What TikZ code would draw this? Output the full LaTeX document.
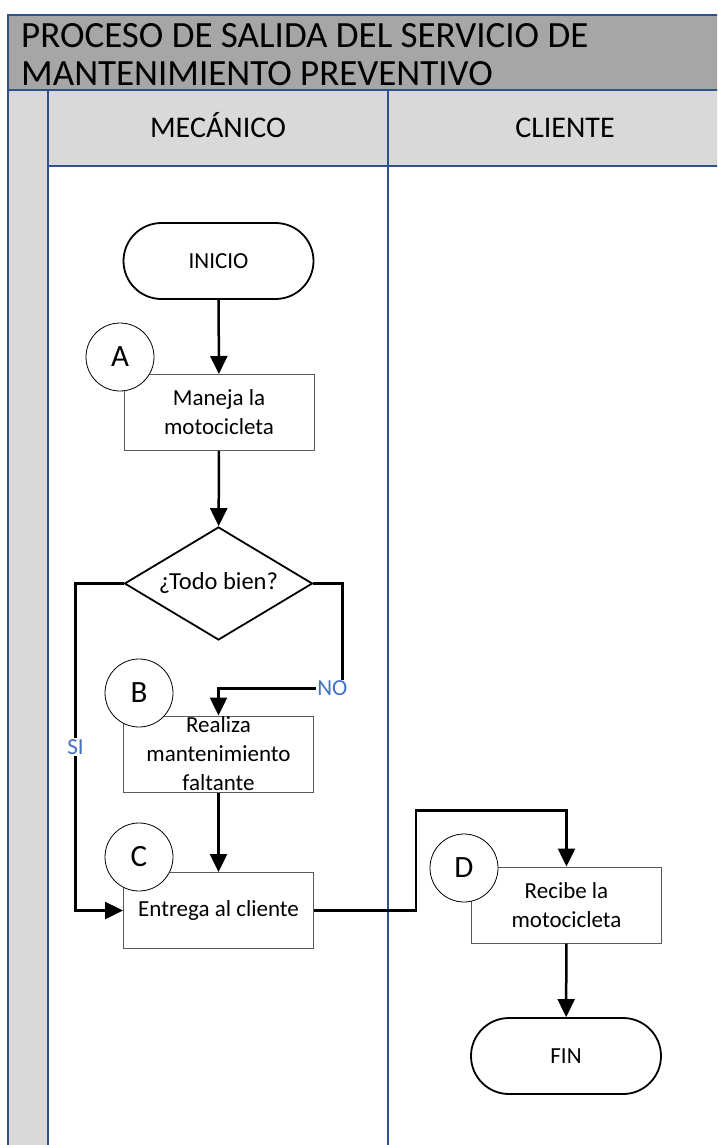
\documentclass[tikz,border=0pt]{standalone}
\usepackage{fontspec}
\setmainfont{Carlito}
\usetikzlibrary{arrows.meta,shapes.geometric}
\definecolor{lineacarril}{RGB}{47,82,143}
\definecolor{grisoscuro}{RGB}{166,166,166}
\definecolor{grisclaro}{RGB}{217,217,217}
\definecolor{azultexto}{RGB}{68,114,196}
\tikzset{
  carril/.style={draw=lineacarril, line width=1.5pt},
  titulo/.style={anchor=base west, inner sep=0pt, font=\fontsize{37}{40}\selectfont},
  encabezado/.style={anchor=base, inner sep=0pt, font=\fontsize{30}{34}\selectfont},
  terminal/.style={draw, line width=1.8pt, rounded corners=38pt, minimum width=190pt, minimum height=76pt, inner sep=0pt, font=\fontsize{23}{28}\selectfont},
  proceso/.style={draw=black!65, line width=1pt, fill=white, minimum width=190pt, minimum height=76pt, inner sep=0pt, align=center, font=\fontsize{23}{29}\selectfont},
  decision/.style={draw, diamond, aspect=1.66, line width=1.8pt, minimum width=188pt, minimum height=113pt, inner sep=0pt, font=\fontsize{24.5}{28}\selectfont},
  conector/.style={draw, circle, line width=0.8pt, fill=white, minimum size=68pt, inner sep=0pt, font=\fontsize{31}{36}\selectfont},
  flujo/.style={line width=2.5pt, -{Triangle[width=17pt,length=18pt]}},
  etiqueta/.style={fill=white, text=azultexto, inner sep=1pt, font=\fontsize{23}{28}\selectfont}
}
\begin{document}
\begin{tikzpicture}[x=1pt, y=-1pt]
    \useasboundingbox (0,0) rectangle (717,1145);
    \clip (0,0) rectangle (717,1145);
    % fondo de la hoja de carriles
    \fill[grisoscuro] (8,15) rectangle (760,90);
    \fill[grisclaro] (8,90) rectangle (760,166);
    \fill[grisclaro] (8,166) rectangle (48,1170);
    \draw[carril] (8,15) rectangle (760,1170);
    \draw[carril] (8,90) -- (760,90);
    \draw[carril] (48,90) -- (48,1170);
    \draw[carril] (48,166) -- (760,166);
    \draw[carril] (388,90) -- (388,1170);
    \node[titulo] (titulo1) at (21,48) {PROCESO DE SALIDA DEL SERVICIO DE};
    \node[titulo] (titulo2) at (21,86) {MANTENIMIENTO PREVENTIVO};
    \node[encabezado] (mecanico) at (218,138) {MECÁNICO};
    \node[encabezado] (cliente) at (565,138) {CLIENTE};

    % pasos del mecanico
    \node[terminal] (inicio) at (218.5,261) {INICIO};
    \node[proceso] (maneja) at (219,412.5) {Maneja la\\motocicleta};
    \node[decision] (todobien) at (218.5,583.5) {¿Todo bien?};
    \node[proceso] (realiza) at (218.5,754) {Realiza\\mantenimiento\\faltante};
    \node[proceso] (entrega) at (218.5,910.5) {Entrega al cliente};
    % pasos del cliente
    \node[proceso] (recibe) at (566.5,905) {Recibe la\\motocicleta};
    \node[terminal] (fin) at (566,1056) {FIN};

    \node[conector] (cA) at (120,357) {A};
    \node[conector] (cB) at (139,693) {B};
    \node[conector] (cC) at (139,857) {C};
    \node[conector] (cD) at (464,868) {D};

    \draw[flujo] (inicio) -- (maneja);
    \draw[flujo] (maneja) -- (todobien);
    \draw[flujo] (todobien.west) -- ++(-48,0) |- node[etiqueta, pos=0.25] (si) {SI} (entrega.west);
    \draw[flujo] (todobien.east) -- ++(29,0) -- ++(0,105) node[etiqueta, xshift=-10pt] (no) {NO} -| (realiza.north);
    \draw[flujo] (realiza) -- (entrega);
    \draw[flujo] (entrega.east) -- ++(102,0) -- ++(0,-100) -| (recibe.north);
    \draw[flujo] (recibe) -- (fin);
\end{tikzpicture}
\end{document}
